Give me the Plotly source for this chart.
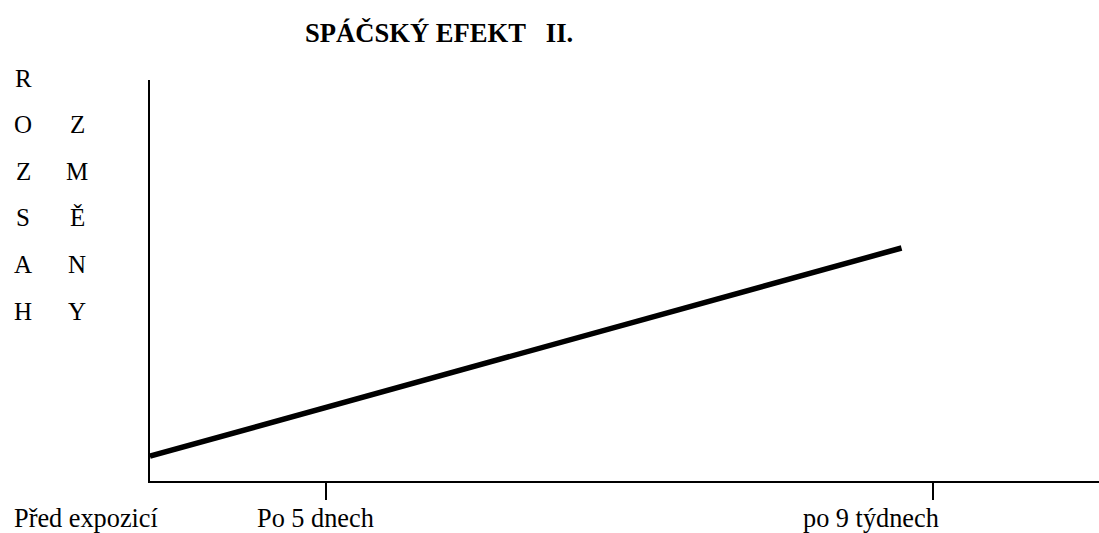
import plotly.graph_objects as go

# ---- data ----
categories = ["Před expozicí", "Po 5 dnech", "po 9 týdnech"]
tick_positions = [1.0, 4.45]          # axis positions of the two tick marks
line_x = [0.0, 4.27]                  # time position (arbitrary units)
line_y = [0.62, 5.81]                 # "rozsah změny" (arbitrary units)
title_text = "SPÁČSKÝ EFEKT\u00a0\u00a0\u00a0II."
ylabel_col1 = "ROZSAH"
ylabel_col2 = "ZMĚNY"

# ---- layout constants ----
W, H = 1099, 533
ML, MR, MT, MB = 150, 0, 80, 52
PW, PH = W - ML - MR, H - MT - MB
X_RANGE = [0, PW / 176.0]
Y_RANGE = [0, 10]
FONT = "Liberation Serif"

def px_to_paper_x(px):
    return (px - ML) / PW

def px_to_paper_y(py):
    return (H - MB - py) / PH

fig = go.Figure()
fig.add_trace(go.Scatter(
    x=line_x, y=line_y, mode="lines",
    line=dict(color="black", width=5.5),
    hoverinfo="skip", showlegend=False,
))

annotations = []
# title
annotations.append(dict(
    text="<b>" + title_text + "</b>", xref="paper", yref="paper",
    x=px_to_paper_x(439), y=px_to_paper_y(33), xanchor="center", yanchor="middle",
    showarrow=False, font=dict(family=FONT, size=26.6, color="black"),
))
# category labels under the axis
label_centers_px = [86, 315, 871]
for lab, cx in zip(categories, label_centers_px):
    annotations.append(dict(
        text=lab, xref="paper", yref="paper",
        x=px_to_paper_x(cx), y=px_to_paper_y(518), xanchor="center", yanchor="middle",
        showarrow=False, font=dict(family=FONT, size=26.3, color="black"),
    ))
# vertical letter-by-letter y label
row0, step = 78, 46.6
for col_word, cx, start_row in [(ylabel_col1, 23, 0), (ylabel_col2, 77, 1)]:
    for i, ch in enumerate(col_word):
        annotations.append(dict(
            text=ch, xref="paper", yref="paper",
            x=px_to_paper_x(cx), y=px_to_paper_y(row0 + (start_row + i) * step),
            xanchor="center", yanchor="middle",
            showarrow=False, font=dict(family=FONT, size=25, color="black"),
        ))

fig.update_layout(
    width=W, height=H,
    margin=dict(l=ML, r=MR, t=MT, b=MB, pad=0),
    paper_bgcolor="white", plot_bgcolor="white",
    font=dict(family=FONT, color="black"),
    xaxis=dict(
        range=X_RANGE, showgrid=False, zeroline=False,
        showline=True, linecolor="black", linewidth=2,
        tickmode="array", tickvals=tick_positions, ticktext=["", ""],
        ticks="outside", ticklen=17, tickwidth=2, tickcolor="black",
        fixedrange=True,
    ),
    yaxis=dict(
        range=Y_RANGE, showgrid=False, zeroline=False,
        showline=True, linecolor="black", linewidth=2,
        showticklabels=False, ticks="", fixedrange=True,
    ),
    annotations=annotations,
    showlegend=False,
)

fig.write_html(
    "out.html",
    config={"displayModeBar": False},
    post_script="document.body.style.margin='0';document.body.style.overflow='hidden';",
)
